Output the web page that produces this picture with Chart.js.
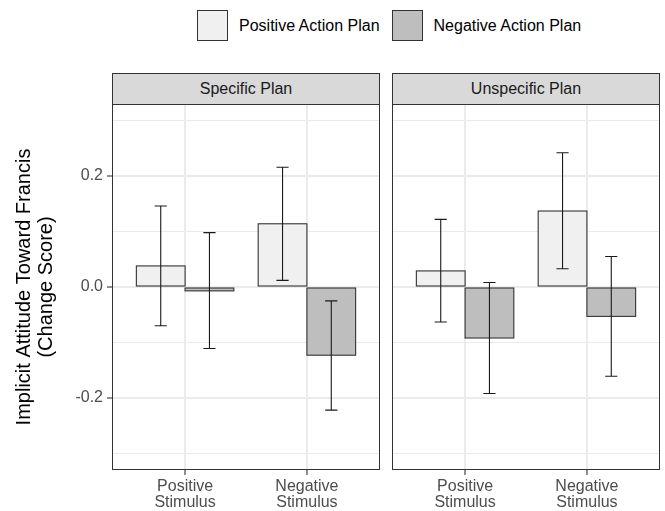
<!DOCTYPE html>
<html>
<head>
<meta charset="utf-8">
<script src="https://cdn.jsdelivr.net/npm/chart.js@4.4.1/dist/chart.umd.min.js"></script>
<style>
  html, body { margin: 0; padding: 0; background: #fff; }
  #wrap { position: relative; width: 665px; height: 511px; overflow: hidden;
          font-family: "Liberation Sans", Arial, Helvetica, sans-serif; }
  canvas { position: absolute; }
  .strip { position: absolute; top: 73px; height: 32px; box-sizing: border-box;
           background: #D9D9D9; border: 1px solid #333; color: #1A1A1A; font-size: 16px;
           display: flex; align-items: center; justify-content: center; }
  #legend { position: absolute; left: 197px; top: 10px; display: flex; align-items: center;
            font-size: 16px; color: #000; }
  .key { width: 31px; height: 31px; box-sizing: border-box; border: 1px solid #333; }
  .lab { margin-left: 11px; margin-right: 12px; }
</style>
</head>
<body>
<div id="wrap">
  <div id="legend"></div>
  <div class="strip" id="strip0" style="left:112px; width:268px;"></div>
  <div class="strip" id="strip1" style="left:392px; width:268px;"></div>
  <canvas id="panel0" width="382" height="411" style="left:0; top:100px; width:382px; height:411px;"></canvas>
  <canvas id="panel1" width="283" height="411" style="left:382px; top:100px; width:283px; height:411px;"></canvas>
</div>
<script>
// Facets, stimulus categories and action-plan groups
const panels = ['Specific Plan', 'Unspecific Plan'];
const stimuli = [['Positive', 'Stimulus'], ['Negative', 'Stimulus']];
const plans = ['Positive Action Plan', 'Negative Action Plan'];
const planColors = ['#F0F0F0', '#BEBEBE'];

// Mean change scores (per stimulus)
const specificPositivePlan   = [0.038, 0.114];
const specificNegativePlan   = [-0.007, -0.123];
const unspecificPositivePlan = [0.029, 0.137];
const unspecificNegativePlan = [-0.092, -0.053];

// Error bar ends (per stimulus)
const specificPositiveLow    = [-0.070, 0.012];
const specificPositiveHigh   = [0.146, 0.216];
const specificNegativeLow    = [-0.111, -0.222];
const specificNegativeHigh   = [0.098, -0.025];
const unspecificPositiveLow  = [-0.063, 0.033];
const unspecificPositiveHigh = [0.122, 0.242];
const unspecificNegativeLow  = [-0.192, -0.161];
const unspecificNegativeHigh = [0.008, 0.055];

// Y axis
const yMajorTicks = [-0.2, 0, 0.2];
const yGridValues = [-0.3, -0.2, -0.1, 0, 0.1, 0.2, 0.3];
const yMin = -0.33, yMax = 0.33;
const yTitle = ['Implicit Attitude Toward Francis', '(Change Score)'];

const panelMeans = [
  [specificPositivePlan, specificNegativePlan],
  [unspecificPositivePlan, unspecificNegativePlan]
];
const panelLows = [
  [specificPositiveLow, specificNegativeLow],
  [unspecificPositiveLow, unspecificNegativeLow]
];
const panelHighs = [
  [specificPositiveHigh, specificNegativeHigh],
  [unspecificPositiveHigh, unspecificNegativeHigh]
];

Chart.defaults.font.family = '"Liberation Sans", Arial, Helvetica, sans-serif';
Chart.defaults.animation = false;

const CAP_WIDTH = 0.1; // error bar cap width in category units

// Outlines around each bar, then error bars on top
const barDecorations = {
  id: 'barDecorations',
  afterDatasetsDraw(chart) {
    const { ctx, scales: { x, y } } = chart;
    const half = Math.abs(x.getPixelForValue(1 + CAP_WIDTH / 2) - x.getPixelForValue(1));
    ctx.save();
    ctx.strokeStyle = '#333333';
    ctx.lineWidth = 1.1;
    chart.data.datasets.forEach((ds, i) => {
      chart.getDatasetMeta(i).data.forEach(bar => {
        const { x: bx, y: by, base, width } = bar.getProps(['x', 'y', 'base', 'width'], true);
        ctx.strokeRect(bx - width / 2, Math.min(by, base), width, Math.abs(base - by));
      });
    });
    ctx.strokeStyle = '#1A1A1A';
    ctx.lineWidth = 1.1;
    chart.data.datasets.forEach((ds, i) => {
      chart.getDatasetMeta(i).data.forEach((bar, j) => {
        const yl = y.getPixelForValue(ds.errorLow[j]);
        const yh = y.getPixelForValue(ds.errorHigh[j]);
        ctx.beginPath();
        ctx.moveTo(bar.x, yl); ctx.lineTo(bar.x, yh);
        ctx.moveTo(bar.x - half, yl); ctx.lineTo(bar.x + half, yl);
        ctx.moveTo(bar.x - half, yh); ctx.lineTo(bar.x + half, yh);
        ctx.stroke();
      });
    });
    ctx.restore();
  }
};

const panelBorder = {
  id: 'panelBorder',
  afterDraw(chart) {
    const { ctx, chartArea: a } = chart;
    ctx.save();
    ctx.strokeStyle = '#333333';
    ctx.lineWidth = 1;
    ctx.strokeRect(a.left + 0.5, a.top + 0.5, a.right - a.left - 1, a.bottom - a.top - 1);
    ctx.restore();
  }
};

const isMajor = c => c.tick && yMajorTicks.includes(c.tick.value);

function makePanel(p) {
  const first = p === 0;
  const datasets = plans.map((name, k) => ({
    label: name,
    data: stimuli.map((_, i) => ({ x: i + 1, y: panelMeans[p][k][i] })),
    errorLow: panelLows[p][k],
    errorHigh: panelHighs[p][k],
    backgroundColor: planColors[k],
    borderWidth: 0,
    inflateAmount: 0,
    categoryPercentage: 0.8,
    barPercentage: 1.0
  }));

  return new Chart(document.getElementById('panel' + p), {
    type: 'bar',
    data: { datasets },
    plugins: [barDecorations, panelBorder],
    options: {
      responsive: false,
      maintainAspectRatio: false,
      layout: { padding: { top: 4, right: first ? 2 : 5, bottom: 0, left: 0 } },
      plugins: { legend: { display: false }, tooltip: { enabled: false } },
      scales: {
        x: {
          type: 'linear',
          offset: false,
          min: 0.4, max: 2.6,
          afterBuildTicks: s => { s.ticks = stimuli.map((_, i) => ({ value: i + 1 })); },
          afterFit: s => { s.height = 41; s.paddingLeft = 0; s.paddingRight = 0; },
          ticks: {
            callback: v => stimuli[v - 1],
            color: '#4D4D4D',
            font: { size: 16, lineHeight: 1.03 },
            padding: 3,
            maxRotation: 0,
            autoSkip: false
          },
          grid: { offset: false, color: '#EBEBEB', lineWidth: 2, tickColor: '#333333', tickLength: 5, tickWidth: 1.1 },
          border: { display: false }
        },
        y: {
          min: yMin, max: yMax,
          afterBuildTicks: s => { s.ticks = yGridValues.map(v => ({ value: v })); },
          afterFit: s => { s.width = first ? 112 : 10; s.paddingTop = 0; s.paddingBottom = 0; },
          ticks: {
            display: first,
            callback: v => yMajorTicks.includes(v) ? v.toFixed(1) : '',
            color: '#4D4D4D',
            font: { size: 16 },
            padding: 4
          },
          grid: {
            color: '#EBEBEB',
            lineWidth: c => isMajor(c) ? 2 : 1,
            drawTicks: first,
            tickColor: c => isMajor(c) ? '#333333' : 'rgba(0,0,0,0)',
            tickLength: 5,
            tickWidth: 1.1
          },
          border: { display: false },
          title: {
            display: first,
            text: yTitle,
            color: '#000000',
            font: { size: 20, lineHeight: 1.1 },
            padding: { top: 13, bottom: 0 }
          }
        }
      }
    }
  });
}

panels.forEach((name, p) => {
  document.getElementById('strip' + p).textContent = name;
  makePanel(p);
});

// Legend built from the plan groups
const legend = document.getElementById('legend');
plans.forEach((name, k) => {
  const key = document.createElement('div');
  key.className = 'key';
  key.style.background = planColors[k];
  const lab = document.createElement('span');
  lab.className = 'lab';
  lab.textContent = name;
  legend.appendChild(key);
  legend.appendChild(lab);
});
</script>
</body>
</html>
